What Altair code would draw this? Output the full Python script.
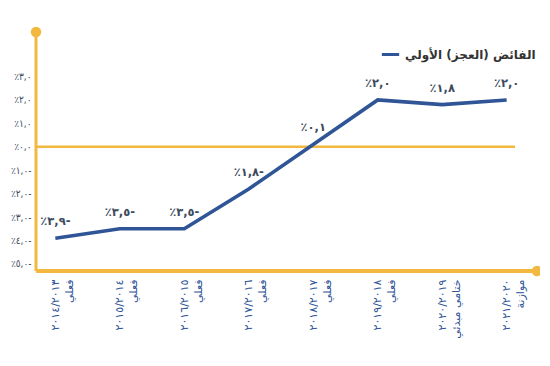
import altair as alt
import pandas as pd

# ---- data ----
years = ["٢٠١٤/٢٠١٣", "٢٠١٥/٢٠١٤", "٢٠١٦/٢٠١٥", "٢٠١٧/٢٠١٦",
         "٢٠١٨/٢٠١٧", "٢٠١٩/٢٠١٨", "٢٠٢٠/٢٠١٩", "٢٠٢١/٢٠٢٠"]
kinds = ["فعلي", "فعلي", "فعلي", "فعلي", "فعلي", "فعلي", "ختامي مبدئي", "موازنة"]
values = [-3.9, -3.5, -3.5, -1.8, 0.1, 2.0, 1.8, 2.0]
point_labels = ["٪٣,٩-", "٪٣,٥-", "٪٣,٥-", "٪١,٨-", "٪٠,١", "٪٢,٠", "٪١,٨", "٪٢,٠"]
series_name = "الفائض (العجز) الأولي"
y_ticks = [3, 2, 1, 0, -1, -2, -3, -4, -5]
y_tick_labels = ["٪٣,٠", "٪٢,٠", "٪١,٠", "٪٠,٠", "٪١,٠-", "٪٢,٠-", "٪٣,٠-", "٪٤,٠-", "٪٥,٠-"]

# ---- styling ----
BLUE = "#2f5597"
GOLD = "#f2b840"
TXT = "#3d4a5e"
FONT = "DejaVu Sans"
FONT_C = "DejaVu Sans Condensed, DejaVu Sans"
W, H = 490, 239

cats = [f"{y}|{k}" for y, k in zip(years, kinds)]
df = pd.DataFrame({"cat": cats, "value": values, "label": point_labels,
                   "series": [series_name] * len(values)})
zero_df = pd.DataFrame({"value": [0]})
one = pd.DataFrame({"z": [0]})

expr = "''"
for v, lab in reversed(list(zip(y_ticks, y_tick_labels))):
    expr = f"datum.value == {v} ? '{lab}' : ({expr})"

xenc = alt.X("cat:N", sort=cats,
             scale=alt.Scale(type="point", padding=0.3),
             axis=alt.Axis(labelAngle=270, labelExpr="split(datum.label, '|')",
                           domain=False, ticks=False, grid=False, title=None,
                           labelPadding=8, labelLineHeight=14, labelFontSize=11,
                           labelColor=BLUE, labelFont=FONT, labelOverlap=False,
                           labelLimit=0))
yscale = alt.Scale(domain=[-5.3, 4.9], nice=False, zero=False)
yaxis = alt.Axis(values=y_ticks, labelExpr=expr, domain=False, ticks=False,
                 grid=False, title=None, labelPadding=5, labelFontSize=10,
                 labelColor=TXT, labelFont=FONT_C, labelOverlap=False, labelLimit=0)
yenc = alt.Y("value:Q", scale=yscale, axis=yaxis)

yaxis_line = alt.Chart(one).mark_rule(color=GOLD, strokeWidth=3).encode(
    x=alt.value(0), y=alt.value(0), y2=alt.value(H))
xaxis_line = alt.Chart(one).mark_rule(color=GOLD, strokeWidth=4).encode(
    x=alt.value(0), x2=alt.value(501), y=alt.value(H))
top_dot = alt.Chart(one).mark_circle(color=GOLD, opacity=1, size=110).encode(
    x=alt.value(0), y=alt.value(0))
end_dot = alt.Chart(one).mark_circle(color=GOLD, opacity=1, size=110).encode(
    x=alt.value(501), y=alt.value(H))
zero_line = alt.Chart(zero_df).mark_rule(color=GOLD, strokeWidth=2.6).encode(
    x=alt.value(0), x2=alt.value(479), y=yenc)

line = alt.Chart(df).mark_line(strokeWidth=3.6).encode(
    x=xenc,
    y=yenc,
    color=alt.Color("series:N", scale=alt.Scale(range=[BLUE]),
                    legend=alt.Legend(orient="none", legendX=344, legendY=12, title=None,
                                      symbolType="stroke", symbolStrokeWidth=3,
                                      symbolSize=300, labelFontSize=12,
                                      labelColor="#333333", labelFont=FONT,
                                      labelFontWeight="bold", labelLimit=0)))

texts = alt.Chart(df).mark_text(dy=-16, fontSize=11.5, color=TXT, font=FONT,
                                fontWeight=600).encode(
    x=alt.X("cat:N", sort=cats), y=yenc, text="label:N")

chart = alt.layer(yaxis_line, xaxis_line, zero_line, top_dot, end_dot, line, texts).properties(
    width=W, height=H,
    autosize=alt.AutoSizeParams(type="none"),
    padding={"left": 28, "top": 24, "right": 14, "bottom": 95},
).configure_view(stroke=None)

chart.save("out.html", embed_options={"renderer": "svg", "actions": False})
